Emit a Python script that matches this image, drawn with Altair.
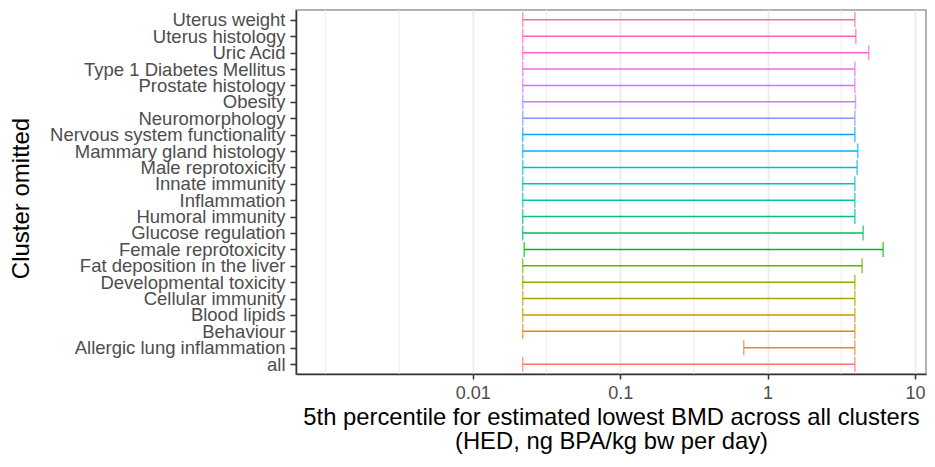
import math
import altair as alt
import pandas as pd

# factor order (bottom to top in the plot)
clusters = [
    "all", "Allergic lung inflammation", "Behaviour", "Blood lipids",
    "Cellular immunity", "Developmental toxicity", "Fat deposition in the liver",
    "Female reprotoxicity", "Glucose regulation", "Humoral immunity",
    "Inflammation", "Innate immunity", "Male reprotoxicity",
    "Mammary gland histology", "Nervous system functionality", "Neuromorphology",
    "Obesity", "Prostate histology", "Type 1 Diabetes Mellitus", "Uric Acid",
    "Uterus histology", "Uterus weight",
]
lower = [0.0218, 0.689, 0.0218, 0.0218, 0.0218, 0.0218, 0.0218, 0.0223, 0.0218,
         0.0218, 0.0218, 0.0218, 0.0218, 0.0218, 0.0218, 0.0218, 0.0218, 0.0218,
         0.0218, 0.0218, 0.0218, 0.0218]
upper = [3.91, 3.91, 3.91, 3.91, 3.91, 3.91, 4.38, 6.08, 4.45, 3.91, 3.91, 3.91,
         4.05, 4.09, 3.91, 3.91, 3.95, 3.91, 3.91, 4.86, 3.97, 3.91]
x_breaks = [0.01, 0.1, 1, 10]
minor_breaks = [0.001, 10 ** -2.5, 10 ** -1.5, 10 ** -0.5, 10 ** 0.5]
x_limits = [10 ** -3.2, 10 ** 1.075]
x_title = ["5th percentile for estimated lowest BMD across all clusters",
           "(HED, ng BPA/kg bw per day)"]


def hcl_hex(h, c=100.0, l=65.0):
    """ggplot2-style hue palette colour (polar CIE-Luv -> sRGB)."""
    hr = math.radians(h)
    u, v = c * math.cos(hr), c * math.sin(hr)
    Xn, Yn, Zn = 95.047, 100.0, 108.883
    d = Xn + 15 * Yn + 3 * Zn
    un, vn = 4 * Xn / d, 9 * Yn / d
    Y = Yn * ((l + 16) / 116) ** 3
    up, vp = u / (13 * l) + un, v / (13 * l) + vn
    X = Y * 9 * up / (4 * vp)
    Z = Y * (12 - 3 * up - 20 * vp) / (4 * vp)
    X, Y, Z = X / 100, Y / 100, Z / 100
    rgb = [3.2404542 * X - 1.5371385 * Y - 0.4985314 * Z,
           -0.9692660 * X + 1.8760108 * Y + 0.0415560 * Z,
           0.0556434 * X - 0.2040259 * Y + 1.0572252 * Z]
    out = []
    for ch in rgb:
        ch = 12.92 * ch if ch <= 0.0031308 else 1.055 * ch ** (1 / 2.4) - 0.055
        out.append(int(round(min(max(ch, 0), 1) * 255)))
    return "#%02X%02X%02X" % tuple(out)


n = len(clusters)
colors = [hcl_hex(15 + i * 360 / n) for i in range(n)]

df = pd.DataFrame({"cluster": clusters, "lo": lower, "hi": upper})
minor_df = pd.DataFrame({"m": minor_breaks})

x_scale = alt.Scale(type="log", domain=x_limits, nice=False)
x_axis = alt.Axis(
    values=x_breaks, format="~g", title=x_title,
    titleFontSize=23.8, titleColor="black", titleFontWeight="normal",
    titleBaseline="alphabetic", titleY=50, titleLineHeight=24,
    labelFontSize=18, labelColor="#4D4D4D", labelPadding=5, labelFlush=False,
    tickSize=5, tickColor="#333333", tickWidth=1.5,
    domainColor="#333333", domainWidth=1.5,
    gridColor="#EBEBEB", gridWidth=1.8,
)
y_axis = alt.Axis(
    title="Cluster omitted", titleFontSize=24, titleColor="black",
    titleFontWeight="normal", titleAngle=-90, titleX=-275, titleY=188,
    titleAlign="center", titleBaseline="middle",
    labelFontSize=18.5, labelColor="#4D4D4D", labelPadding=5, labelLimit=0,
    tickSize=6, tickColor="#333333", tickWidth=1.5,
    domainColor="#333333", domainWidth=1.5,
    gridColor="#EBEBEB", gridWidth=1.8,
)
y_enc = alt.Y("cluster:N", sort=clusters[::-1],
              scale=alt.Scale(type="point", padding=0.6), axis=y_axis)
color_enc = alt.Color("cluster:N", scale=alt.Scale(domain=clusters, range=colors),
                      legend=None)

minor = alt.Chart(minor_df).mark_rule(color="#EBEBEB", strokeWidth=0.9).encode(
    x=alt.X("m:Q", scale=x_scale, axis=x_axis)
)
bars = alt.Chart(df).mark_rule(strokeWidth=1.5).encode(
    x=alt.X("lo:Q", scale=x_scale, axis=x_axis), x2="hi:Q",
    y=y_enc, color=color_enc,
)
cap_lo = alt.Chart(df).mark_tick(size=15, thickness=1.5).encode(
    x=alt.X("lo:Q", scale=x_scale, axis=x_axis), y=y_enc, color=color_enc,
)
cap_hi = alt.Chart(df).mark_tick(size=15, thickness=1.5).encode(
    x=alt.X("hi:Q", scale=x_scale, axis=x_axis), y=y_enc, color=color_enc,
)

chart = (
    alt.layer(minor, bars, cap_lo, cap_hi)
    .properties(width=630, height=364, autosize="none",
                padding={"left": 288, "top": 2, "right": 1, "bottom": 80})
    .configure(font="Liberation Sans")
    .configure_view(stroke="#999999", strokeWidth=1.5)
)

chart.save("out.html", embed_options={"renderer": "svg", "actions": False})
